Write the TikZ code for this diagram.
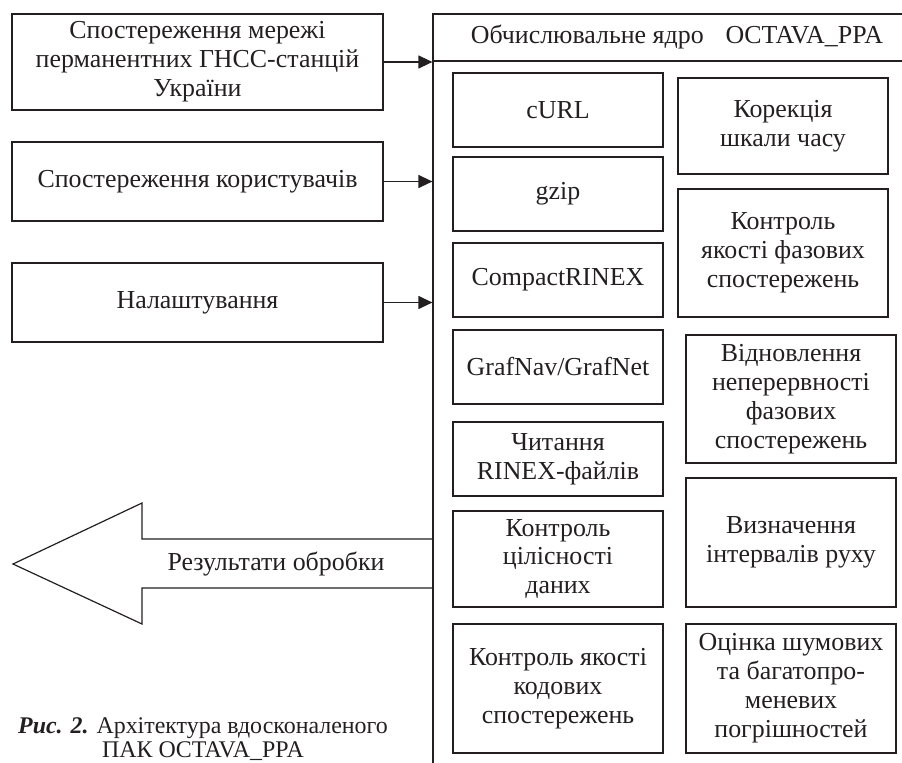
\documentclass[tikz,border=0pt]{standalone}
\usepackage{fontspec}
\setmainfont{Liberation Serif}
\usepackage{tikz}
\usetikzlibrary{arrows.meta}
\definecolor{ink}{HTML}{231F20}

\begin{document}
\begin{tikzpicture}[x=1bp,y=-1bp,>={Triangle[length=14bp,width=13bp]},line join=miter,
  every node/.style={text=ink,font=\fontsize{26}{29}\selectfont},
  box/.style={draw=ink,line width=1.2bp,align=center,inner sep=0pt},
]
\clip (0,0) rectangle (902,763);
%%
\node (node_obs_net) at (197.5,62) [box,minimum width=371bp,minimum height=96bp] {Спостереження мережі\\перманентних ГНСС-станцій\\України};
  \node (node_obs_user) at (197.5,181.5) [box,minimum width=371bp,minimum height=79bp] {Спостереження користувачів};
  \node (node_settings) at (197.5,302.5) [box,minimum width=371bp,minimum height=79bp] {Налаштування};
  \node (node_core) at (681.5,407) [box,minimum width=497bp,minimum height=786bp] {};
  \node (node_title) at (677,37) [draw=none] {Обчислювальне ядро\hspace{0.6em} OCTAVA\_PPA};
  \node (node_curl) at (558,110) [box,minimum width=210bp,minimum height=74bp] {cURL};
  \node (node_gzip) at (558,194) [box,minimum width=210bp,minimum height=74bp] {gzip};
  \node (node_crx) at (558,280) [box,minimum width=210bp,minimum height=74bp] {CompactRINEX};
  \node (node_grafnav) at (558,367) [box,minimum width=210bp,minimum height=74bp] {GrafNav/GrafNet};
  \node (node_rinex) at (558,459) [box,minimum width=210bp,minimum height=74bp] {Читання\\RINEX-файлів};
  \node (node_integrity) at (558,559) [box,minimum width=210bp,minimum height=96bp] {Контроль\\цілісності\\даних};
  \node (node_code_qc) at (558,688.5) [box,minimum width=210bp,minimum height=129bp] {Контроль якості\\кодових\\спостережень};
  \node (node_time) at (783,126) [box,minimum width=210bp,minimum height=96bp] {Корекція\\шкали часу};
  \node (node_phase_qc) at (783,253) [box,minimum width=210bp,minimum height=128bp] {Контроль\\якості фазових\\спостережень};
  \node (node_cycle) at (791,399) [box,minimum width=210bp,minimum height=128bp] {Відновлення\\неперервності\\фазових\\спостережень};
  \node (node_motion) at (791,542.5) [box,minimum width=210bp,minimum height=129bp] {Визначення\\інтервалів руху};
  \node (node_noise) at (791,688.5) [box,minimum width=210bp,minimum height=129bp] {Оцінка шумових\\та багатопро-\\меневих\\погрішностей};
  \node (node_results) at (276,564) [draw=none] {Результати обробки};
  \node (node_caption) at (203,717) [anchor=north,align=center,inner sep=0pt,font=\fontsize{24}{25}\selectfont] {\textbf{\textit{Рис. 2.}} Архітектура вдосконаленого\\ПАК OCTAVA\_PPA};
  \draw [ink,line width=1.2bp] (433,61) -- (930,61);
  \draw [ink,line width=1.2bp] (433,539) -- (142,539) -- (142,503) -- (13,564) -- (142,624) -- (142,588) -- (433,588);
  \draw [ink,line width=1.2bp,->] (node_obs_net) -- (node_obs_net -| node_core.west);
  \draw [ink,line width=1.2bp,->] (node_obs_user) -- (node_obs_user -| node_core.west);
  \draw [ink,line width=1.2bp,->] (node_settings) -- (node_settings -| node_core.west);
%
\end{tikzpicture}
\end{document}
